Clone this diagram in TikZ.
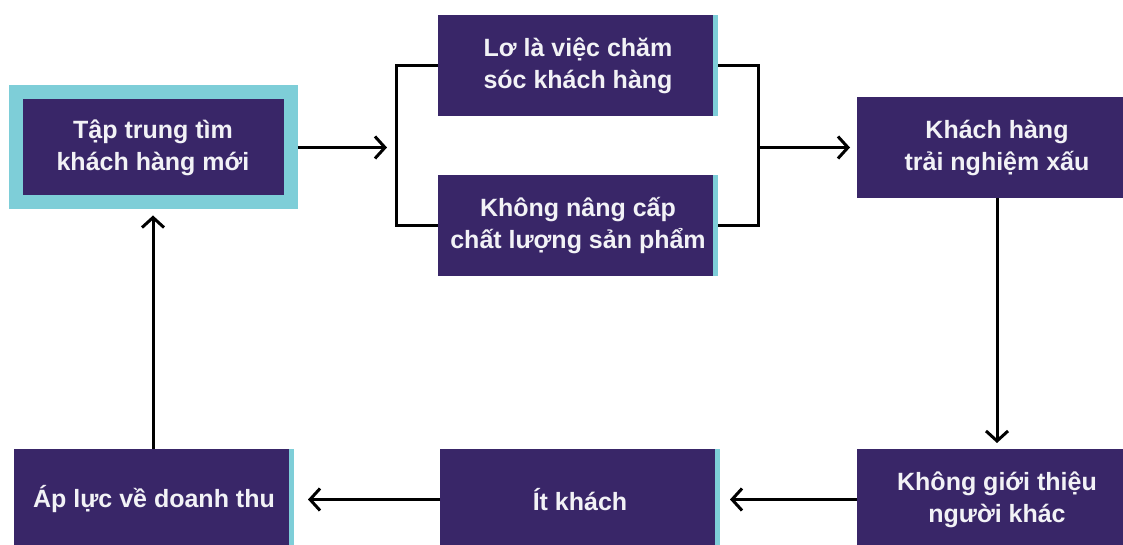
\documentclass[tikz,border=0pt]{standalone}
\usepackage{fontspec}
\setmainfont{Liberation Sans}
\usetikzlibrary{arrows.meta,positioning}

\begin{document}
\begin{tikzpicture}[x=1pt,y=1pt,->,>={Straight Barb[length=10pt,width=22pt]},line width=3pt,
  base node/.style={rectangle,fill=boxpurple,text=boxtext,inner sep=0pt,outer sep=0pt,align=center,
    minimum width=280pt,minimum height=101pt,font=\bfseries\fontsize{25}{32}\selectfont},
  box node/.style={base node,path picture={\fill[edgecyan] ([xshift=-5pt]path picture bounding box.north east) rectangle (path picture bounding box.south east);}},
  start node/.style={base node,minimum width=275pt,minimum height=110pt,draw=edgecyan,line width=14pt,outer sep=7pt}]
  \definecolor{boxpurple}{RGB}{57,38,104}
  \definecolor{edgecyan}{RGB}{126,206,216}
  \definecolor{boxtext}{RGB}{242,242,246}

  \useasboundingbox (0,0) rectangle (1123,545);

  \node[start node] (focus) at (153,397.5) {Tập trung tìm\\khách hàng mới};
  \node[box node] (neglect) at (578,479.5) {Lơ là việc chăm\\sóc khách hàng};
  \node[box node] (noupgrade) [below=59pt of neglect] {Không nâng cấp\\chất lượng sản phẩm};
  \node[box node] (bad) at (997,397.5) {Khách hàng\\trải nghiệm xấu};
  \node[box node] (noref) [below=251pt of bad] {Không giới thiệu\\người khác};
  \node[box node] (few) [left=137pt of noref] {Ít khách};
  \node[box node] (pressure) [left=146pt of few] {Áp lực về doanh thu};

  \coordinate (split) at (396,397.5);
  \coordinate (merge) at (758,397.5);

  \draw[shorten >=9pt] (focus) -- (split);
  \draw[-] (neglect.west) -| (split) |- (noupgrade.west);
  \draw[-] (neglect.east) -| (merge) |- (noupgrade.east);
  \draw[shorten >=7pt] (merge) -- (bad);
  \draw[shorten >=6pt] (bad) -- (noref);
  \draw[shorten >=10pt] (noref) -- (few);
  \draw[shorten >=14pt] (few) -- (pressure);
  \draw[shorten >=6pt] (pressure.north -| focus) -- (focus);
\end{tikzpicture}
\end{document}
